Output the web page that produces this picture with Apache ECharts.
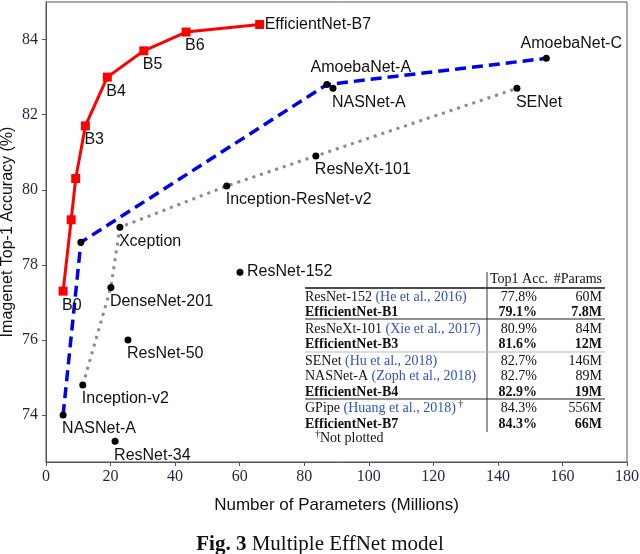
<!DOCTYPE html>
<html>
<head>
<meta charset="utf-8">
<script src="https://cdn.jsdelivr.net/npm/echarts@6/dist/echarts.min.js"></script>
<style>
  html, body { margin: 0; padding: 0; background: #fff; }
  #chart { width: 640px; height: 554px; }
</style>
</head>
<body>
<div id="chart"></div>
<script>
// EfficientNet family (red)
const effNames = ['B0', '', '', 'B3', 'B4', 'B5', 'B6', 'EfficientNet-B7'];
const effParams = [5.3, 7.8, 9.2, 12.2, 19, 30.3, 43.4, 66.2];
const effAcc = [77.3, 79.2, 80.3, 81.7, 83.0, 83.7, 84.2, 84.4];

// NAS models (blue dashed)
const nasNames = ['NASNet-A', '', 'AmoebaNet-A', 'AmoebaNet-C'];
const nasParams = [5.3, 10.8, 87, 155];
const nasAcc = [74.0, 78.6, 82.8, 83.5];

// hand-designed (gray dotted)
const handNames = ['Inception-v2', 'DenseNet-201', 'Xception', 'Inception-ResNet-v2', 'ResNeXt-101', 'SENet'];
const handParams = [11.4, 20.1, 22.9, 56, 83.6, 145.9];
const handAcc = [74.8, 77.4, 79.0, 80.1, 80.9, 82.7];

// standalone points
const otherNames = ['NASNet-A', 'ResNet-152', 'ResNet-50', 'ResNet-34'];
const otherParams = [88.9, 60.1, 25.4, 21.4];
const otherAcc = [82.7, 77.8, 76.0, 73.3];

const xTicks = [0, 20, 40, 60, 80, 100, 120, 140, 160, 180];
const yTicks = [74, 76, 78, 80, 82, 84];

// table
const tabModels = ['ResNet-152', 'EfficientNet-B1', 'ResNeXt-101', 'EfficientNet-B3', 'SENet', 'NASNet-A', 'EfficientNet-B4', 'GPipe', 'EfficientNet-B7'];
const tabCites = ['(He et al., 2016)', '', '(Xie et al., 2017)', '', '(Hu et al., 2018)', '(Zoph et al., 2018)', '', '(Huang et al., 2018)', ''];
const tabAcc = ['77.8%', '79.1%', '80.9%', '81.6%', '82.7%', '82.7%', '82.9%', '84.3%', '84.3%'];
const tabParams = ['60M', '7.8M', '84M', '12M', '146M', '89M', '19M', '556M', '66M'];
const tabGroup = [0, 0, 1, 1, 2, 2, 2, 3, 3];

// label placement: [dx, dy, align]
const spot = {
  'EfficientNet-B7': [5, 0, 'left'],
  'AmoebaNet-A': [34, -17, 'center'],
  'AmoebaNet-C': [25, -15, 'center'],
  'ResNet-152': [7, -1, 'left']
};
function pts(names, xs, ys) {
  return xs.map((x, i) => {
    const s = spot[names[i]] || [-1, 14, 'left'];
    return {
      value: [x, ys[i]],
      label: { show: !!names[i], formatter: names[i], offset: [s[0], s[1]], align: s[2] }
    };
  });
}

const labelStyle = {
  position: 'inside',
  verticalAlign: 'middle',
  fontFamily: 'Liberation Sans',
  fontSize: 16,
  color: '#111'
};

const serif = 'Liberation Serif';
const fs = 14;
const graphics = [];
const tf = (w) => (w ? 'bold ' : '') + fs + 'px "' + serif + '"';
graphics.push({ type: 'line', shape: { x1: 487, y1: 272, x2: 487, y2: 432 }, style: { stroke: '#333', lineWidth: 1 } });
graphics.push({ type: 'text', style: { text: 'Top1 Acc.', x: 490, y: 279, font: tf(false), fill: '#111', verticalAlign: 'middle' } });
graphics.push({ type: 'text', style: { text: '#Params', x: 602, y: 279, font: tf(false), fill: '#111', align: 'right', verticalAlign: 'middle' } });
[[288, 1.6, '#111'], [319, 1, '#222'], [352, 1, '#bbb'], [399, 1, '#222']].forEach(l => {
  graphics.push({ type: 'line', shape: { x1: 305, y1: l[0], x2: 605, y2: l[0] }, style: { stroke: l[2], lineWidth: l[1] } });
});
tabModels.forEach((m, i) => {
  const y = 297 + i * 15.6 + tabGroup[i] * 0.8;
  const bold = m.indexOf('EfficientNet') === 0;
  let txt = '{n|' + m + '}';
  if (tabCites[i]) txt += '{n| }{c|' + tabCites[i] + '}';
  if (m === 'GPipe') txt += '{s| †}';
  graphics.push({
    type: 'text',
    style: {
      text: txt, x: 305, y: y, verticalAlign: 'middle',
      rich: {
        n: { fontFamily: serif, fontSize: fs, fontWeight: bold ? 'bold' : 'normal', fill: '#111' },
        c: { fontFamily: serif, fontSize: fs, fill: '#2f52c4' },
        s: { fontFamily: serif, fontSize: 10, fill: '#111', padding: [0, 0, 8, 0] }
      }
    }
  });
  graphics.push({ type: 'text', style: { text: tabAcc[i], x: 537, y: y, font: tf(bold), fill: '#111', align: 'right', verticalAlign: 'middle' } });
  graphics.push({ type: 'text', style: { text: tabParams[i], x: 602, y: y, font: tf(bold), fill: '#111', align: 'right', verticalAlign: 'middle' } });
});
graphics.push({
  type: 'text',
  style: {
    text: '{s|†}{n|Not plotted}', x: 315, y: 438, verticalAlign: 'middle',
    rich: {
      n: { fontFamily: serif, fontSize: fs, fill: '#111' },
      s: { fontFamily: serif, fontSize: 10, fill: '#111', padding: [0, 0, 8, 0] }
    }
  }
});

const chart = echarts.init(document.getElementById('chart'));
chart.setOption({
  backgroundColor: '#fff',
  animation: false,
  title: {
    text: '{b|Fig. 3} Multiple EffNet model',
    left: 'center',
    top: 529,
    textStyle: {
      fontFamily: serif, fontSize: 21, fontWeight: 'normal', color: '#111',
      rich: { b: { fontFamily: serif, fontSize: 21, fontWeight: 'bold', color: '#111' } }
    }
  },
  grid: {
    left: 46, right: 13, top: 2, bottom: 92,
    outerBoundsMode: 'none',
    show: true, borderColor: '#555', borderWidth: 1
  },
  xAxis: {
    type: 'value', min: 0, max: 180, interval: 20,
    name: 'Number of Parameters (Millions)',
    nameLocation: 'middle', nameGap: 35, nameMoveOverlap: false,
    nameTextStyle: { fontFamily: 'Liberation Sans', fontSize: 17, color: '#111' },
    axisLine: { lineStyle: { color: '#555' } },
    axisTick: { length: 4, lineStyle: { color: '#555' } },
    axisLabel: { margin: 7, fontFamily: serif, fontSize: 16, color: '#1e2740', customValues: xTicks },
    splitLine: { show: false }
  },
  yAxis: {
    type: 'value', min: 72.75, max: 85,
    name: 'Imagenet Top-1 Accuracy (%)',
    nameLocation: 'middle', nameGap: 30, nameMoveOverlap: false,
    nameTextStyle: { fontFamily: 'Liberation Sans', fontSize: 16, color: '#111' },
    axisLine: { show: true, lineStyle: { color: '#555' } },
    axisTick: { show: true, length: 4, lineStyle: { color: '#555' }, customValues: yTicks },
    axisLabel: { margin: 8, fontFamily: serif, fontSize: 16, color: '#1e2740', customValues: yTicks },
    splitLine: { show: false }
  },
  graphic: graphics,
  series: [
    {
      type: 'line', data: pts(handNames, handParams, handAcc), z: 2,
      symbol: 'circle', symbolSize: 7, showAllSymbol: true,
      itemStyle: { color: '#000' },
      lineStyle: { color: '#8a8a8a', width: 3, type: [3, 5] },
      label: labelStyle
    },
    {
      type: 'line', data: pts(nasNames, nasParams, nasAcc), z: 3,
      symbol: 'circle', symbolSize: 7, showAllSymbol: true,
      itemStyle: { color: '#000' },
      lineStyle: { color: '#0000ee', width: 3.5, type: [11, 6] },
      label: labelStyle
    },
    {
      type: 'scatter', data: pts(otherNames, otherParams, otherAcc), z: 4,
      symbol: 'circle', symbolSize: 7,
      itemStyle: { color: '#000', opacity: 1 },
      label: labelStyle
    },
    {
      type: 'line', data: pts(effNames, effParams, effAcc), z: 5,
      symbol: 'rect', symbolSize: 9, showAllSymbol: true,
      itemStyle: { color: '#ff0000' },
      lineStyle: { color: '#ff0000', width: 3 },
      label: labelStyle
    }
  ]
});
</script>
</body>
</html>
